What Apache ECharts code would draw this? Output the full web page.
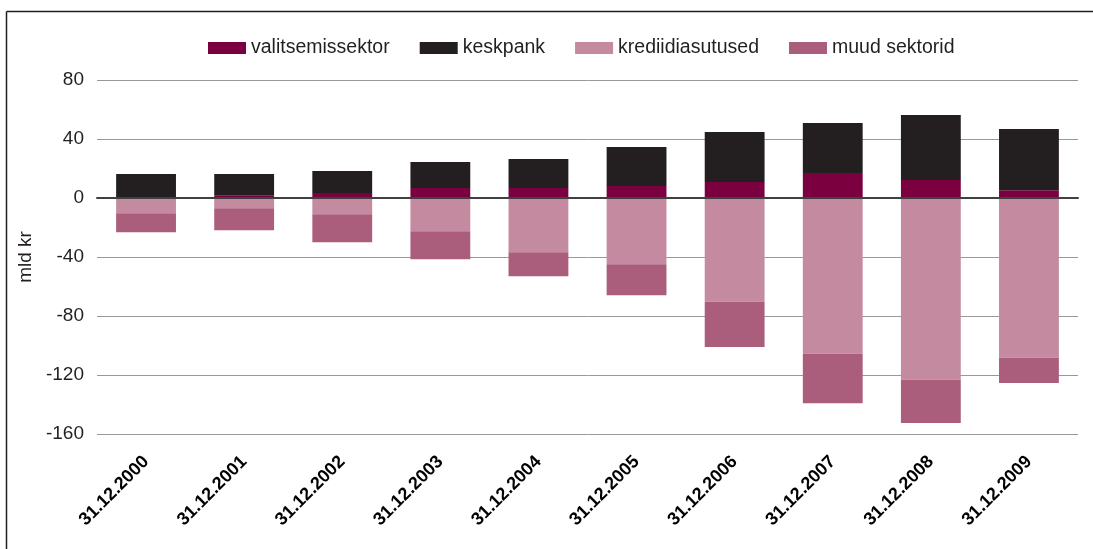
<!DOCTYPE html>
<html>
<head>
<meta charset="utf-8">
<script src="https://cdn.jsdelivr.net/npm/echarts@6/dist/echarts.min.js"></script>
<style>
  html, body { margin: 0; padding: 0; background: #fff; }
  #chart { width: 1093px; height: 549px; }
</style>
</head>
<body>
<div id="chart"></div>
<script>
// aastalõpu seisud, mld kr
var categories = ['31.12.2000', '31.12.2001', '31.12.2002', '31.12.2003', '31.12.2004',
                  '31.12.2005', '31.12.2006', '31.12.2007', '31.12.2008', '31.12.2009'];
var valitsemissektor = [0, 1.5, 3.4, 6.8, 6.8, 8.1, 10.8, 17.0, 12.2, 5.3];
var keskpank = [16.3, 14.8, 14.9, 17.6, 19.6, 26.5, 33.9, 33.8, 44.1, 41.5];
var krediidiasutused = [-10.3, -6.9, -11.0, -22.5, -36.7, -44.9, -70.3, -105.6, -123.2, -108.3];
var muudSektorid = [-12.9, -14.9, -19.0, -19.0, -16.3, -21.0, -30.8, -33.5, -29.4, -17.2];

var yTicks = { min: -160, max: 80, interval: 40 };

var font = 'Liberation Sans';
var ink = '#231f20';

var chart = echarts.init(document.getElementById('chart'));

function bar(name, data, color){
	return {
		name: name,
		type: 'bar',
		stack: 'total',
		data: data,
		barCategoryGap: '39%',
		itemStyle: { color: color },
		emphasis: { disabled: true }
	};
}

var option = {
	backgroundColor: '#fff',
	animation: false,
	textStyle: { fontFamily: font, color: ink },
	legend: {
		left: 203,
		top: 33,
		itemWidth: 38,
		itemHeight: 12,
		itemGap: 30,
		icon: 'rect',
		textStyle: { fontSize: 19.5, color: ink, fontFamily: font },
		data: ['valitsemissektor', 'keskpank', 'krediidiasutused', 'muud sektorid']
	},
	grid: {
		left: 97,
		right: 15,
		top: 80,
		bottom: 115,
		containLabel: false
	},
	xAxis: {
		type: 'category',
		data: categories,
		axisTick: { show: false },
		axisLine: {
			show: true,
			onZero: true,
			lineStyle: { color: '#404040', width: 2 }
		},
		axisLabel: {
			rotate: 45,
			margin: 25,
			interval: 0,
			fontSize: 18,
			fontWeight: 'bold',
			color: '#000',
			fontFamily: font
		},
		z: 10
	},
	yAxis: {
		type: 'value',
		min: yTicks.min,
		max: yTicks.max,
		interval: yTicks.interval,
		name: 'mld kr',
		nameLocation: 'middle',
		nameRotate: 90,
		nameGap: 50,
		nameTextStyle: { fontSize: 19, color: ink, fontFamily: font },
		axisLine: { show: false },
		axisTick: { show: false },
		axisLabel: { fontSize: 19, margin: 13, color: ink, fontFamily: font },
		splitLine: { lineStyle: { color: '#999', width: 1 } }
	},
	graphic: [
		{ type: 'line', shape: { x1: 6.5, y1: 11.5, x2: 6.5, y2: 549 }, style: { stroke: ink, lineWidth: 1.5 } },
		{ type: 'line', shape: { x1: 6.5, y1: 11.5, x2: 1093, y2: 11.5 }, style: { stroke: ink, lineWidth: 1.5 } }
	],
	series: [
		bar('valitsemissektor', valitsemissektor, '#7b003f'),
		bar('keskpank', keskpank, '#231f20'),
		bar('krediidiasutused', krediidiasutused, '#c48aa0'),
		bar('muud sektorid', muudSektorid, '#aa5e7c')
	]
};

chart.setOption(option);
</script>
</body>
</html>
